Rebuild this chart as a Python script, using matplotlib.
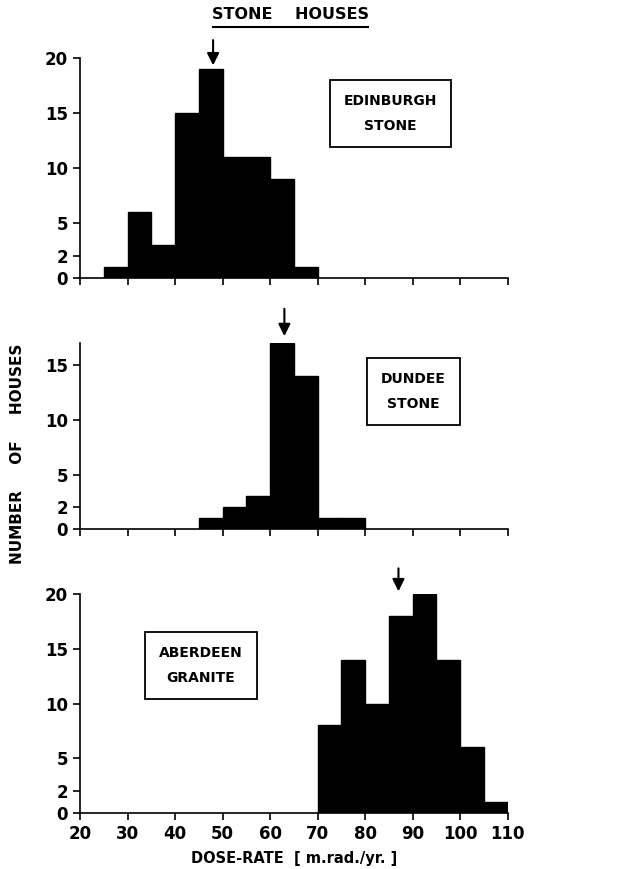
import matplotlib.pyplot as plt
import numpy as np

# Data: histogram bins (5 m.rad/yr wide) and counts
edinburgh_bins = [25, 30, 35, 40, 45, 50, 55, 60, 65]
edinburgh_counts = [1, 6, 3, 15, 19, 11, 11, 9, 1]
edinburgh_mean = 48

dundee_bins = [45, 50, 55, 60, 65, 70, 75]
dundee_counts = [1, 2, 3, 17, 14, 1, 1]
dundee_mean = 63

aberdeen_bins = [70, 75, 80, 85, 90, 95, 100, 105]
aberdeen_counts = [8, 14, 10, 18, 20, 14, 6, 1]
aberdeen_mean = 87

x_ticks = [20, 30, 40, 50, 60, 70, 80, 90, 100, 110]

plt.rcParams['font.family'] = 'DejaVu Sans'
plt.rcParams['font.weight'] = 'bold'

fig = plt.figure(figsize=(6.3, 8.69), dpi=100)

left, width = 0.127, 0.679
ax1 = fig.add_axes([left, 0.680, width, 0.253])
ax2 = fig.add_axes([left, 0.391, width, 0.214])
ax3 = fig.add_axes([left, 0.0644, width, 0.252])

panels = [
    (ax1, edinburgh_bins, edinburgh_counts, edinburgh_mean, 20, [0, 2, 5, 10, 15, 20],
     'EDINBURGH\nSTONE', (85.3, 15.0), (19.1, 21.9)),
    (ax2, dundee_bins, dundee_counts, dundee_mean, 17, [0, 2, 5, 10, 15],
     'DUNDEE\nSTONE', (90.2, 12.6), (17.4, 20.4)),
    (ax3, aberdeen_bins, aberdeen_counts, aberdeen_mean, 20, [0, 2, 5, 10, 15, 20],
     'ABERDEEN\nGRANITE', (45.4, 13.5), (20.0, 22.6)),
]

for ax, bins, counts, mean, ytop, yticks, label, lpos, arr in panels:
    ax.bar(bins, counts, width=5, align='edge', color='black', edgecolor='black')
    ax.set_xlim(20, 110)
    ax.set_ylim(0, ytop)
    ax.spines['top'].set_visible(False)
    ax.spines['right'].set_visible(False)
    ax.spines['left'].set_linewidth(1.2)
    ax.spines['bottom'].set_linewidth(1.2)
    ax.set_yticks(yticks)
    ax.set_yticklabels([str(t) for t in yticks], fontsize=12, fontweight='bold')
    ax.set_xticks(x_ticks)
    ax.tick_params(axis='both', direction='out', length=5, width=1.2)
    ax.text(lpos[0], lpos[1], label, ha='center', va='center', fontsize=10,
            fontweight='bold', linespacing=2.0,
            bbox=dict(boxstyle='square,pad=1.0', facecolor='white', edgecolor='black', linewidth=1.3))
    ax.annotate('', xy=(mean, arr[0]), xytext=(mean, arr[1]),
                arrowprops=dict(arrowstyle='-|>', color='black', lw=1.5, mutation_scale=18),
                annotation_clip=False)

ax1.set_xticklabels([])
ax2.set_xticklabels([])
ax3.set_xticklabels([str(t) for t in x_ticks], fontsize=12, fontweight='bold')
ax3.set_xlabel('DOSE-RATE  [ m.rad./yr. ]', fontsize=10.5, fontweight='bold', labelpad=6)

fig.text(0.461, 0.983, 'STONE    HOUSES', ha='center', va='center',
         fontsize=11.5, fontweight='bold')
fig.add_artist(plt.Line2D([0.338, 0.584], [0.9685, 0.9685], color='black', lw=1.5))

fig.text(0.028, 0.478, 'NUMBER     OF     HOUSES', rotation=90,
         ha='center', va='center', fontsize=11, fontweight='bold')

plt.savefig('out.png', dpi=100)
